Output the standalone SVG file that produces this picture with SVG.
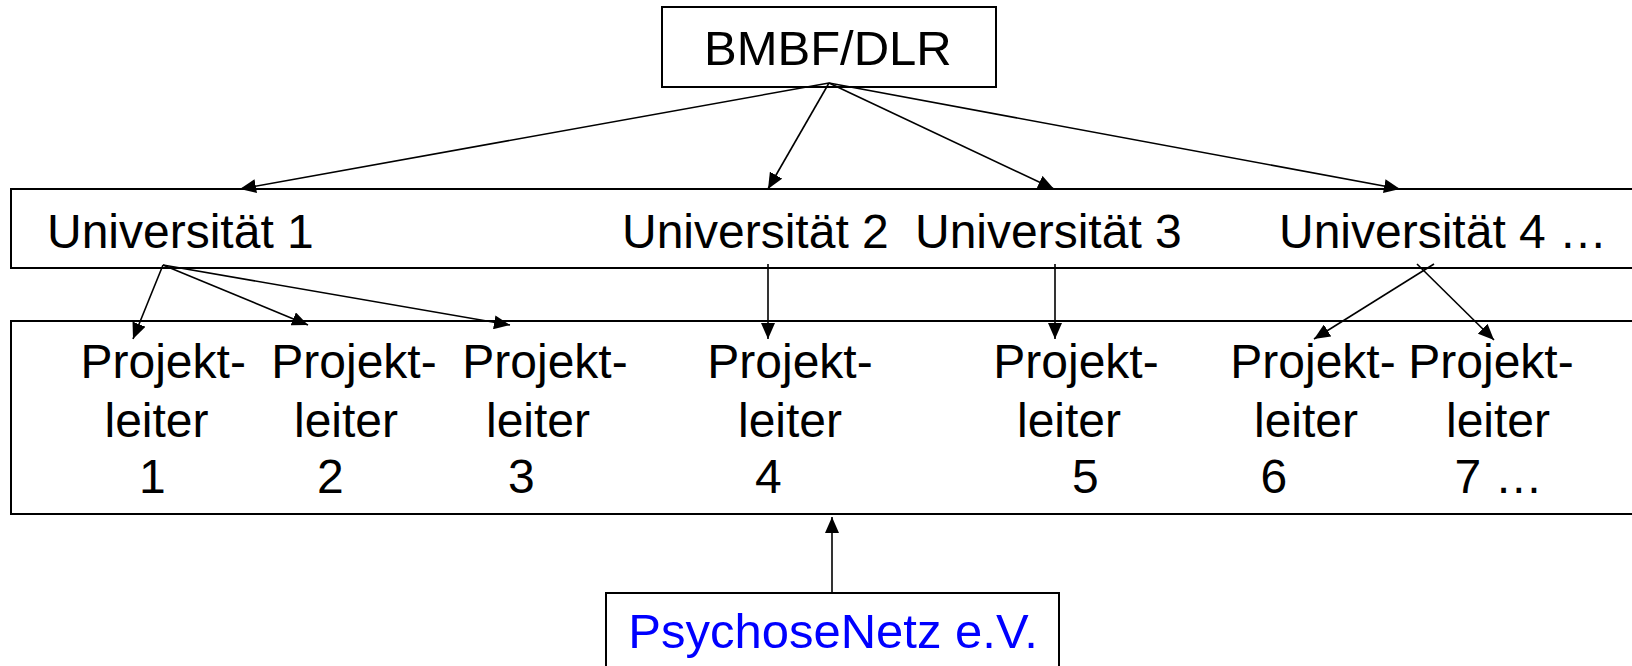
<svg xmlns="http://www.w3.org/2000/svg" width="1632" height="666" viewBox="0 0 1632 666">
<style>
.box{fill:#fff;stroke:#000;stroke-width:2}
.t{font-family:"Liberation Sans",Arial,sans-serif;fill:#000;font-size:48px}
.l{stroke:#000;stroke-width:1.6;fill:none;marker-end:url(#ah)}
</style>
<defs>
<marker id="ah" markerUnits="userSpaceOnUse" markerWidth="18" markerHeight="14" refX="16" refY="7" orient="auto">
<path d="M0,0 L16,7 L0,14 Z" fill="#000"/>
</marker>
</defs>
<rect width="1632" height="666" fill="#fff"/>
<g id="bmbf">
<rect class="box" x="662" y="7" width="334" height="80"/>
<text class="t" x="704" y="65" style="font-size:49px">BMBF/DLR</text>
</g>
<g id="universitaeten">
<rect class="box" x="11" y="189" width="1630" height="79"/>
<text class="t" x="47" y="248">Universität 1</text>
<text class="t" x="622" y="248">Universität 2</text>
<text class="t" x="915" y="248">Universität 3</text>
<text class="t" x="1279" y="248">Universität 4 …</text>
</g>
<g id="projektleiter">
<rect class="box" x="11" y="321" width="1630" height="193"/>
<g class="t">
<text x="80.5" y="378">Projekt-</text><text x="104.5" y="437">leiter</text><text x="139" y="493">1</text>
<text x="271.3" y="378">Projekt-</text><text x="294" y="437">leiter</text><text x="317" y="493">2</text>
<text x="462.3" y="378">Projekt-</text><text x="486" y="437">leiter</text><text x="508" y="493">3</text>
<text x="707.3" y="378">Projekt-</text><text x="738" y="437">leiter</text><text x="755" y="493">4</text>
<text x="993.3" y="378">Projekt-</text><text x="1017" y="437">leiter</text><text x="1072" y="493">5</text>
<text x="1230.3" y="378">Projekt-</text><text x="1254" y="437">leiter</text><text x="1260.5" y="493">6</text>
<text x="1408.3" y="378">Projekt-</text><text x="1446" y="437">leiter</text><text x="1454.6" y="493">7 …</text>
</g>
</g>
<g id="psychosenetz">
<rect class="box" x="606" y="593" width="453" height="80"/>
<text class="t" x="628.3" y="648" style="fill:#0000ff;font-size:49px">PsychoseNetz e.V.</text>
</g>
<g id="connectors">
<line class="l" x1="829" y1="83" x2="240" y2="189"/>
<line class="l" x1="829" y1="83" x2="768" y2="189"/>
<line class="l" x1="829" y1="83" x2="1054" y2="189"/>
<line class="l" x1="829" y1="83" x2="1400" y2="189"/>
<line class="l" x1="163" y1="265" x2="133" y2="339"/>
<line class="l" x1="163" y1="265" x2="308" y2="325"/>
<line class="l" x1="163" y1="265" x2="510" y2="325"/>
<line class="l" x1="768" y1="264" x2="768" y2="339"/>
<line class="l" x1="1055" y1="264" x2="1055" y2="339"/>
<line class="l" x1="1434" y1="264" x2="1314" y2="339"/>
<line class="l" x1="1417" y1="264" x2="1494" y2="340"/>
<line class="l" x1="832" y1="593" x2="832" y2="517"/>
</g>
</svg>
